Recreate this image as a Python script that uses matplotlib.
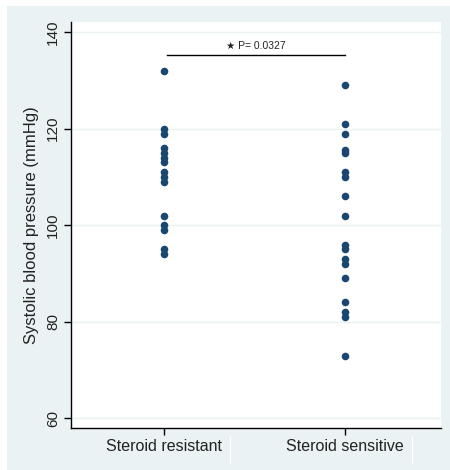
import matplotlib.pyplot as plt
from matplotlib.patches import Rectangle
from matplotlib.lines import Line2D

# 数据: 两组的收缩压 (mmHg)
groups = ['Steroid resistant', 'Steroid sensitive']
resistant = [132, 120, 119, 116, 115, 114, 113, 111, 110, 109, 102, 100, 99, 95, 94]
sensitive = [129, 121, 119, 115.6, 115, 111, 110, 106, 102, 96, 95, 93, 92, 89, 84, 82, 81, 73]
y_ticks = [60, 80, 100, 120, 140]
p_text = '\u2605 P= 0.0327'
p_y = 135.2

plt.rcParams['font.family'] = ['Liberation Sans', 'DejaVu Sans']

bg = '#EAF2F3'
navy = '#1A476F'

fig = plt.figure(figsize=(4.5, 4.7), dpi=100, facecolor='white')
# Stata 风格的浅色背景
fig.patches.append(Rectangle((7 / 450, 0), 1, 1 - 6 / 470, transform=fig.transFigure,
                             facecolor=bg, edgecolor='none', zorder=-10))
ax = fig.add_axes([71 / 450, 1 - 428 / 470, 370 / 450, 406 / 470])
ax.set_facecolor('white')

# 散点
ax.scatter([1] * len(resistant), resistant, s=30, color=navy, zorder=3, linewidths=0)
ax.scatter([2] * len(sensitive), sensitive, s=30, color=navy, zorder=3, linewidths=0)

# 显著性标注
ax.plot([1.02, 2.0], [p_y, p_y], color='black', linewidth=1)
ax.text(1.51, p_y + 0.8, p_text, ha='center', va='bottom', fontsize=7.5, color='#222222')

ax.set_xlim(0.49, 2.53)
ax.set_ylim(58, 142.1)
ax.set_xticks([1, 2])
ax.set_xticklabels(groups, fontsize=11.5)
ax.set_yticks(y_ticks)
ax.set_yticklabels([str(v) for v in y_ticks], rotation=90, va='center', fontsize=11)
ax.set_ylabel('Systolic blood pressure (mmHg)', fontsize=12, color='#222222', labelpad=5)
ax.grid(axis='y', color=bg, linewidth=1)
ax.set_axisbelow(True)
ax.tick_params(axis='both', direction='out', length=5, width=1, colors='black',
               labelcolor='#222222', pad=3)
for side in ['top', 'right']:
    ax.spines[side].set_visible(False)
for side in ['left', 'bottom']:
    ax.spines[side].set_linewidth(1)

# 标签框之间的细白线
for xp in [230, 412]:
    fig.lines.append(Line2D([xp / 450, xp / 450], [1 - 463 / 470, 1 - 436 / 470],
                            transform=fig.transFigure, color='white', linewidth=1))

fig.savefig('out.png', dpi=100, facecolor=fig.get_facecolor())
